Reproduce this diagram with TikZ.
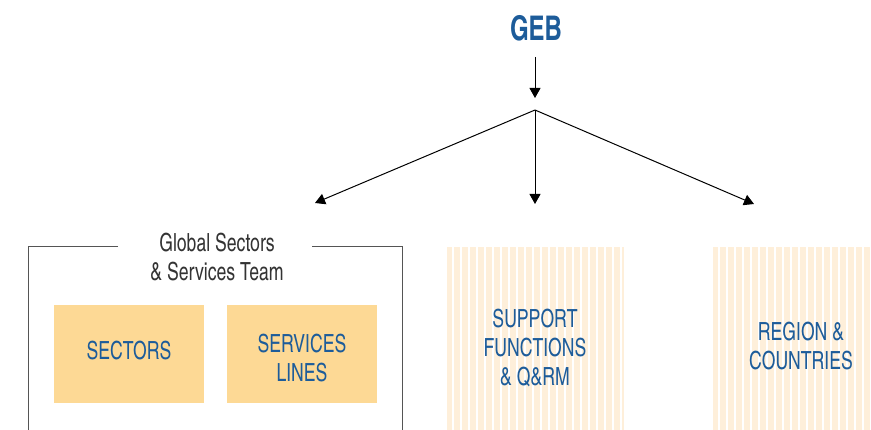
\documentclass[tikz,border=0pt]{standalone}
\usepackage{fontspec}
\setmainfont[FakeStretch=0.86, BoldFont=texgyreheroscn-bold.otf]{texgyreheroscn-regular.otf}
\usetikzlibrary{arrows.meta}
\definecolor{gebblue}{HTML}{1D5C9A}
\definecolor{solidbox}{HTML}{FDD995}
\definecolor{stripebox}{HTML}{FEEFDA}
\definecolor{framegray}{HTML}{555555}
\definecolor{titlegray}{HTML}{333333}
\tikzset{
	label/.style={align=center, inner sep=0pt, text=gebblue, font=\fontsize{25}{29}\selectfont},
	tip/.style={-{Triangle[width=11pt,length=10pt]}, line width=1pt}
}
\begin{document}
\begin{tikzpicture}[x=1pt, y=-1pt]
		\useasboundingbox (0, 0) rectangle (871, 430);

		% boxes
		\fill[solidbox] (54, 305) rectangle (204, 403);
		\fill[solidbox] (227, 305) rectangle (377, 403);
		\fill[stripebox] (447, 247) rectangle (624, 430);
		\fill[stripebox] (713, 247) rectangle (871, 430);
		\foreach \x in {453, 461, ..., 621}
			\draw[white, line width=2pt] (\x, 247) -- (\x, 430);
		\foreach \x in {719, 727, ..., 871}
			\draw[white, line width=2pt] (\x, 247) -- (\x, 430);

		% team frame
		\draw[framegray, line width=1pt] (118, 247) -| (28, 431);
		\draw[framegray, line width=1pt] (312, 247) -| (402, 431);
		\node[label, text=titlegray] (team) at (217, 257) {Global Sectors\\\& Services Team};

		\node[label] (sectors) at (129, 351) {SECTORS};
		\node[label] (lines) at (302, 358) {SERVICES\\LINES};
		\node[label] (support) at (535, 348) {SUPPORT\\FUNCTIONS\\\& Q\&RM};
		\node[label] (region) at (801, 346) {REGION \&\\COUNTRIES};

		% top
		\node[label, font=\fontsize{34}{40}\selectfont\bfseries] (geb) at (536, 28) {GEB};
		\coordinate (start) at (535, 57);
		\coordinate (stop) at (535, 98);
		\coordinate (hub) at (535, 110);
		\coordinate (left) at (315, 203);
		\coordinate (mid) at (535, 204);
		\coordinate (right) at (754, 204);

		\draw[tip] (start) -- (stop);
		\draw[tip] (hub) -- (left);
		\draw[tip] (hub) -- (mid);
		\draw[tip] (hub) -- (right);
	\end{tikzpicture}
\end{document}
